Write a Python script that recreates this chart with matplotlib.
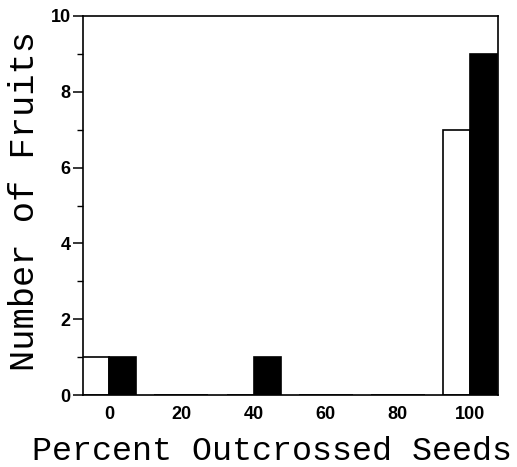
import matplotlib
matplotlib.use('Agg')
from matplotlib import pyplot as plt
from matplotlib.ticker import MultipleLocator
import numpy as np

# percent outcrossed seeds (bin centres) and fruit counts
bins = [0, 20, 40, 60, 80, 100]
open_counts = [1, 0, 0, 0, 0, 7]
filled_counts = [1, 0, 1, 0, 0, 9]
xticks = [0, 20, 40, 60, 80, 100]
yticks = [0, 2, 4, 6, 8, 10]

x = np.array(bins)
width = 7.5

fig = plt.figure(figsize=(5.17, 4.67), dpi=100)
ax = fig.add_axes([83/517, 1-395/467, (498-83)/517, (395-16)/467])

ax.bar(x - width, open_counts, width, align='edge', color='white', edgecolor='black', linewidth=1.2, zorder=2)
ax.bar(x, filled_counts, width, align='edge', color='black', edgecolor='black', linewidth=1.2, zorder=2)

ax.set_xlim(-7.3, 107.8)
ax.set_ylim(0, 10)
ax.set_xticks(xticks)
ax.set_yticks(yticks)
ax.yaxis.set_minor_locator(MultipleLocator(1))

tickfont = dict(family='Liberation Sans', weight='bold', size=13)
ax.set_xticklabels([str(t) for t in xticks], **tickfont)
ax.set_yticklabels([str(t) for t in yticks], **tickfont)
ax.tick_params(axis='x', length=0, pad=8)
ax.tick_params(axis='y', which='major', length=7, width=1.1, pad=2)
ax.tick_params(axis='y', which='minor', length=4, width=1.0)

for s in ax.spines.values():
    s.set_linewidth(1.2)

fig.text(272/517, 1-452/467, 'Percent Outcrossed Seeds', ha='center', va='center',
         family='Liberation Mono', size=24)
fig.text(25/517, 1-201/467, 'Number of Fruits', ha='center', va='center', rotation=90,
         family='Liberation Mono', size=25.5)

plt.savefig('out.png', dpi=100)
